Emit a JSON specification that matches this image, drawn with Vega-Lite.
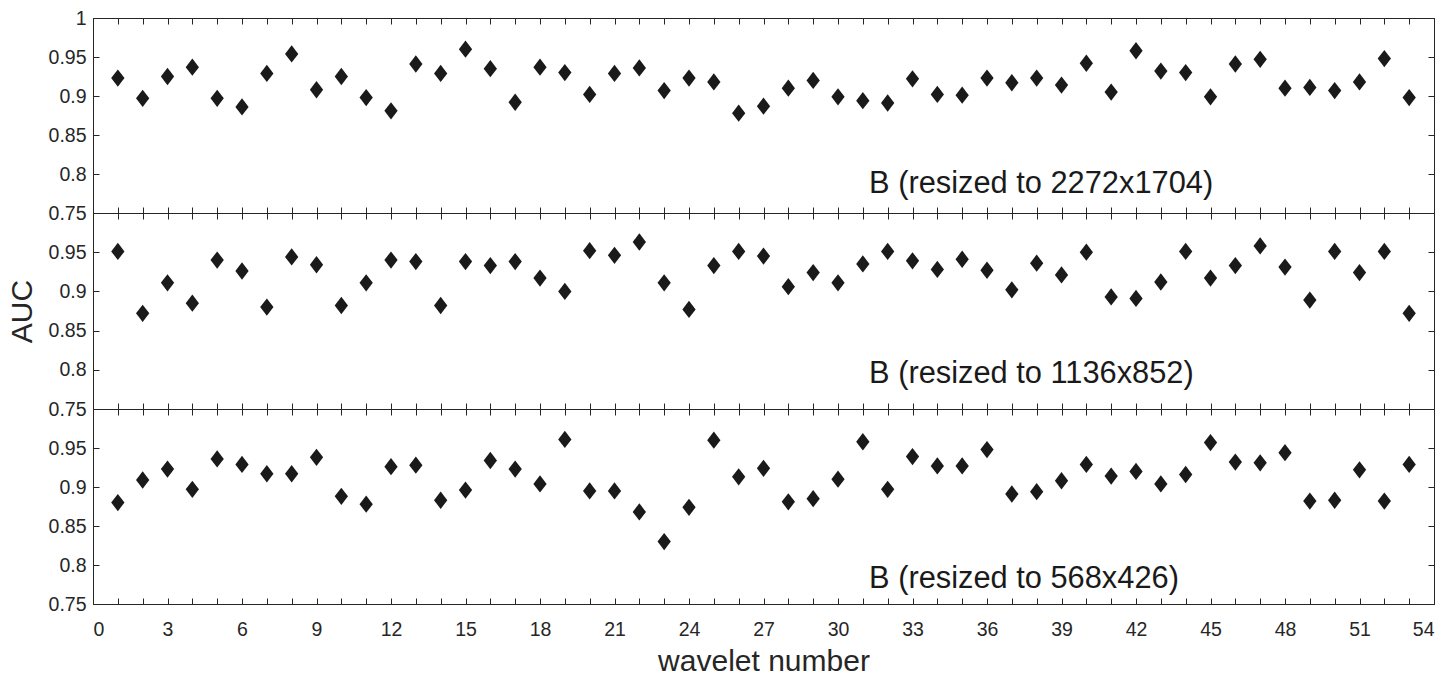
{
  "$schema": "https://vega.github.io/schema/vega-lite/v6.json",
  "padding": {"left": 7, "top": 8, "right": 5, "bottom": 5},
  "datasets": {
    "top": [
      {"n":1,"auc":0.923},{"n":2,"auc":0.897},{"n":3,"auc":0.925},{"n":4,"auc":0.937},{"n":5,"auc":0.897},{"n":6,"auc":0.886},{"n":7,"auc":0.929},{"n":8,"auc":0.954},{"n":9,"auc":0.908},{"n":10,"auc":0.925},
      {"n":11,"auc":0.898},{"n":12,"auc":0.881},{"n":13,"auc":0.941},{"n":14,"auc":0.929},{"n":15,"auc":0.960},{"n":16,"auc":0.935},{"n":17,"auc":0.892},{"n":18,"auc":0.937},{"n":19,"auc":0.930},{"n":20,"auc":0.902},
      {"n":21,"auc":0.929},{"n":22,"auc":0.936},{"n":23,"auc":0.907},{"n":24,"auc":0.923},{"n":25,"auc":0.918},{"n":26,"auc":0.878},{"n":27,"auc":0.887},{"n":28,"auc":0.910},{"n":29,"auc":0.920},{"n":30,"auc":0.899},
      {"n":31,"auc":0.894},{"n":32,"auc":0.891},{"n":33,"auc":0.922},{"n":34,"auc":0.902},{"n":35,"auc":0.901},{"n":36,"auc":0.923},{"n":37,"auc":0.917},{"n":38,"auc":0.923},{"n":39,"auc":0.914},{"n":40,"auc":0.942},
      {"n":41,"auc":0.905},{"n":42,"auc":0.958},{"n":43,"auc":0.932},{"n":44,"auc":0.930},{"n":45,"auc":0.899},{"n":46,"auc":0.941},{"n":47,"auc":0.947},{"n":48,"auc":0.910},{"n":49,"auc":0.911},{"n":50,"auc":0.907},
      {"n":51,"auc":0.918},{"n":52,"auc":0.948},{"n":53,"auc":0.898}
    ],
    "mid": [
      {"n":1,"auc":0.951},{"n":2,"auc":0.872},{"n":3,"auc":0.911},{"n":4,"auc":0.885},{"n":5,"auc":0.940},{"n":6,"auc":0.926},{"n":7,"auc":0.880},{"n":8,"auc":0.944},{"n":9,"auc":0.934},{"n":10,"auc":0.882},
      {"n":11,"auc":0.911},{"n":12,"auc":0.940},{"n":13,"auc":0.938},{"n":14,"auc":0.882},{"n":15,"auc":0.938},{"n":16,"auc":0.933},{"n":17,"auc":0.938},{"n":18,"auc":0.917},{"n":19,"auc":0.900},{"n":20,"auc":0.952},
      {"n":21,"auc":0.946},{"n":22,"auc":0.963},{"n":23,"auc":0.911},{"n":24,"auc":0.877},{"n":25,"auc":0.933},{"n":26,"auc":0.951},{"n":27,"auc":0.945},{"n":28,"auc":0.906},{"n":29,"auc":0.924},{"n":30,"auc":0.911},
      {"n":31,"auc":0.935},{"n":32,"auc":0.951},{"n":33,"auc":0.939},{"n":34,"auc":0.928},{"n":35,"auc":0.941},{"n":36,"auc":0.927},{"n":37,"auc":0.902},{"n":38,"auc":0.936},{"n":39,"auc":0.921},{"n":40,"auc":0.950},
      {"n":41,"auc":0.893},{"n":42,"auc":0.891},{"n":43,"auc":0.912},{"n":44,"auc":0.951},{"n":45,"auc":0.917},{"n":46,"auc":0.933},{"n":47,"auc":0.958},{"n":48,"auc":0.931},{"n":49,"auc":0.889},{"n":50,"auc":0.951},
      {"n":51,"auc":0.924},{"n":52,"auc":0.951},{"n":53,"auc":0.872}
    ],
    "bot": [
      {"n":1,"auc":0.880},{"n":2,"auc":0.909},{"n":3,"auc":0.923},{"n":4,"auc":0.897},{"n":5,"auc":0.936},{"n":6,"auc":0.929},{"n":7,"auc":0.917},{"n":8,"auc":0.917},{"n":9,"auc":0.938},{"n":10,"auc":0.888},
      {"n":11,"auc":0.878},{"n":12,"auc":0.926},{"n":13,"auc":0.928},{"n":14,"auc":0.883},{"n":15,"auc":0.896},{"n":16,"auc":0.934},{"n":17,"auc":0.923},{"n":18,"auc":0.904},{"n":19,"auc":0.961},{"n":20,"auc":0.895},
      {"n":21,"auc":0.895},{"n":22,"auc":0.868},{"n":23,"auc":0.830},{"n":24,"auc":0.874},{"n":25,"auc":0.960},{"n":26,"auc":0.913},{"n":27,"auc":0.924},{"n":28,"auc":0.881},{"n":29,"auc":0.885},{"n":30,"auc":0.910},
      {"n":31,"auc":0.958},{"n":32,"auc":0.897},{"n":33,"auc":0.939},{"n":34,"auc":0.927},{"n":35,"auc":0.927},{"n":36,"auc":0.948},{"n":37,"auc":0.891},{"n":38,"auc":0.894},{"n":39,"auc":0.908},{"n":40,"auc":0.929},
      {"n":41,"auc":0.914},{"n":42,"auc":0.920},{"n":43,"auc":0.904},{"n":44,"auc":0.916},{"n":45,"auc":0.957},{"n":46,"auc":0.932},{"n":47,"auc":0.931},{"n":48,"auc":0.944},{"n":49,"auc":0.882},{"n":50,"auc":0.883},
      {"n":51,"auc":0.922},{"n":52,"auc":0.882},{"n":53,"auc":0.929}
    ]
  },
  "spacing": 0,
  "bounds": "flush",
  "vconcat": [
    {
      "width": 1341, "height": 195,
      "layer": [
        {
          "data": {"name": "top"},
          "mark": {"type": "point", "shape": "M0,-1.3L1,0L0,1.3L-1,0Z", "filled": true, "size": 177, "color": "#1a1a1a", "opacity": 1},
          "encoding": {
            "x": {"field": "n", "type": "quantitative", "scale": {"domain": [0, 54], "nice": false, "zero": false},
                  "axis": {"orient": "bottom", "values": [0,1,2,3,4,5,6,7,8,9,10,11,12,13,14,15,16,17,18,19,20,21,22,23,24,25,26,27,28,29,30,31,32,33,34,35,36,37,38,39,40,41,42,43,44,45,46,47,48,49,50,51,52,53,54], "labels": false, "title": null}},
            "y": {"field": "auc", "type": "quantitative", "scale": {"domain": [0.75, 1], "nice": false, "zero": false},
                  "axis": {"orient": "left", "values": [0.75,0.8,0.85,0.9,0.95,1], "format": "~g", "title": null}}
          }
        },
        {
          "data": {"name": "top"},
          "mark": {"type": "point", "opacity": 0},
          "encoding": {
            "x": {"field": "n", "type": "quantitative", "axis": {"orient": "top", "values": [0,1,2,3,4,5,6,7,8,9,10,11,12,13,14,15,16,17,18,19,20,21,22,23,24,25,26,27,28,29,30,31,32,33,34,35,36,37,38,39,40,41,42,43,44,45,46,47,48,49,50,51,52,53,54], "labels": false, "title": null}},
            "y": {"field": "auc", "type": "quantitative", "axis": {"orient": "right", "values": [0.75,0.8,0.85,0.9,0.95,1], "labels": false, "title": null}}
          }
        },
        {
          "data": {"values": [{"label": "B (resized to 2272x1704)"}]},
          "mark": {"type": "text", "align": "left", "baseline": "alphabetic", "fontSize": 30.8, "color": "#1a1a1a", "font": "Liberation Sans"},
          "encoding": {
            "x": {"datum": 31.25, "type": "quantitative", "axis": null},
            "y": {"datum": 0.7755, "type": "quantitative", "axis": null},
            "text": {"field": "label"}
          }
        }
      ]
    },
    {
      "width": 1341, "height": 196,
      "layer": [
        {
          "data": {"name": "mid"},
          "mark": {"type": "point", "shape": "M0,-1.3L1,0L0,1.3L-1,0Z", "filled": true, "size": 177, "color": "#1a1a1a", "opacity": 1},
          "encoding": {
            "x": {"field": "n", "type": "quantitative", "scale": {"domain": [0, 54], "nice": false, "zero": false},
                  "axis": {"orient": "bottom", "values": [0,1,2,3,4,5,6,7,8,9,10,11,12,13,14,15,16,17,18,19,20,21,22,23,24,25,26,27,28,29,30,31,32,33,34,35,36,37,38,39,40,41,42,43,44,45,46,47,48,49,50,51,52,53,54], "labels": false, "title": null}},
            "y": {"field": "auc", "type": "quantitative", "scale": {"domain": [0.75, 1], "nice": false, "zero": false},
                  "axis": {"orient": "left", "values": [0.75,0.8,0.85,0.9,0.95,1], "format": "~g", "labelExpr": "datum.value >= 0.999 ? '' : datum.label", "title": "AUC", "titlePadding": 11}}
          }
        },
        {
          "data": {"name": "mid"},
          "mark": {"type": "point", "opacity": 0},
          "encoding": {
            "x": {"field": "n", "type": "quantitative", "axis": {"orient": "top", "values": [0,1,2,3,4,5,6,7,8,9,10,11,12,13,14,15,16,17,18,19,20,21,22,23,24,25,26,27,28,29,30,31,32,33,34,35,36,37,38,39,40,41,42,43,44,45,46,47,48,49,50,51,52,53,54], "labels": false, "title": null}},
            "y": {"field": "auc", "type": "quantitative", "axis": {"orient": "right", "values": [0.75,0.8,0.85,0.9,0.95,1], "labels": false, "title": null}}
          }
        },
        {
          "data": {"values": [{"label": "B (resized to 1136x852)"}]},
          "mark": {"type": "text", "align": "left", "baseline": "alphabetic", "fontSize": 30.8, "color": "#1a1a1a", "font": "Liberation Sans"},
          "encoding": {
            "x": {"datum": 31.25, "type": "quantitative", "axis": null},
            "y": {"datum": 0.7836, "type": "quantitative", "axis": null},
            "text": {"field": "label"}
          }
        }
      ]
    },
    {
      "width": 1341, "height": 195,
      "layer": [
        {
          "data": {"name": "bot"},
          "mark": {"type": "point", "shape": "M0,-1.3L1,0L0,1.3L-1,0Z", "filled": true, "size": 177, "color": "#1a1a1a", "opacity": 1},
          "encoding": {
            "x": {"field": "n", "type": "quantitative", "scale": {"domain": [0, 54], "nice": false, "zero": false},
                  "axis": {"orient": "bottom", "values": [0,1,2,3,4,5,6,7,8,9,10,11,12,13,14,15,16,17,18,19,20,21,22,23,24,25,26,27,28,29,30,31,32,33,34,35,36,37,38,39,40,41,42,43,44,45,46,47,48,49,50,51,52,53,54], "labelExpr": "datum.value % 3 === 0 ? datum.label : ''", "labelPadding": 22, "title": "wavelet number", "titlePadding": 8}},
            "y": {"field": "auc", "type": "quantitative", "scale": {"domain": [0.75, 1], "nice": false, "zero": false},
                  "axis": {"orient": "left", "values": [0.75,0.8,0.85,0.9,0.95,1], "format": "~g", "labelExpr": "datum.value >= 0.999 ? '' : datum.label", "title": null}}
          }
        },
        {
          "data": {"name": "bot"},
          "mark": {"type": "point", "opacity": 0},
          "encoding": {
            "x": {"field": "n", "type": "quantitative", "axis": {"orient": "top", "values": [0,1,2,3,4,5,6,7,8,9,10,11,12,13,14,15,16,17,18,19,20,21,22,23,24,25,26,27,28,29,30,31,32,33,34,35,36,37,38,39,40,41,42,43,44,45,46,47,48,49,50,51,52,53,54], "labels": false, "title": null}},
            "y": {"field": "auc", "type": "quantitative", "axis": {"orient": "right", "values": [0.75,0.8,0.85,0.9,0.95,1], "labels": false, "title": null}}
          }
        },
        {
          "data": {"values": [{"label": "B (resized to 568x426)"}]},
          "mark": {"type": "text", "align": "left", "baseline": "alphabetic", "fontSize": 30.8, "color": "#1a1a1a", "font": "Liberation Sans"},
          "encoding": {
            "x": {"datum": 31.25, "type": "quantitative", "axis": null},
            "y": {"datum": 0.770, "type": "quantitative", "axis": null},
            "text": {"field": "label"}
          }
        }
      ]
    }
  ],
  "config": {
    "view": {"stroke": null},
    "font": "Liberation Sans",
    "axis": {
      "grid": false,
      "domainColor": "#262626",
      "domainWidth": 1,
      "tickColor": "#262626",
      "tickWidth": 1,
      "tickSize": -6,
      "labelColor": "#262626",
      "titleColor": "#262626",
      "labelFont": "Liberation Sans",
      "titleFont": "Liberation Sans",
      "labelFontSize": 19.5,
      "titleFontSize": 30,
      "titleFontWeight": "normal",
      "labelOverlap": false,
      "labelPadding": 13
    }
  }
}
